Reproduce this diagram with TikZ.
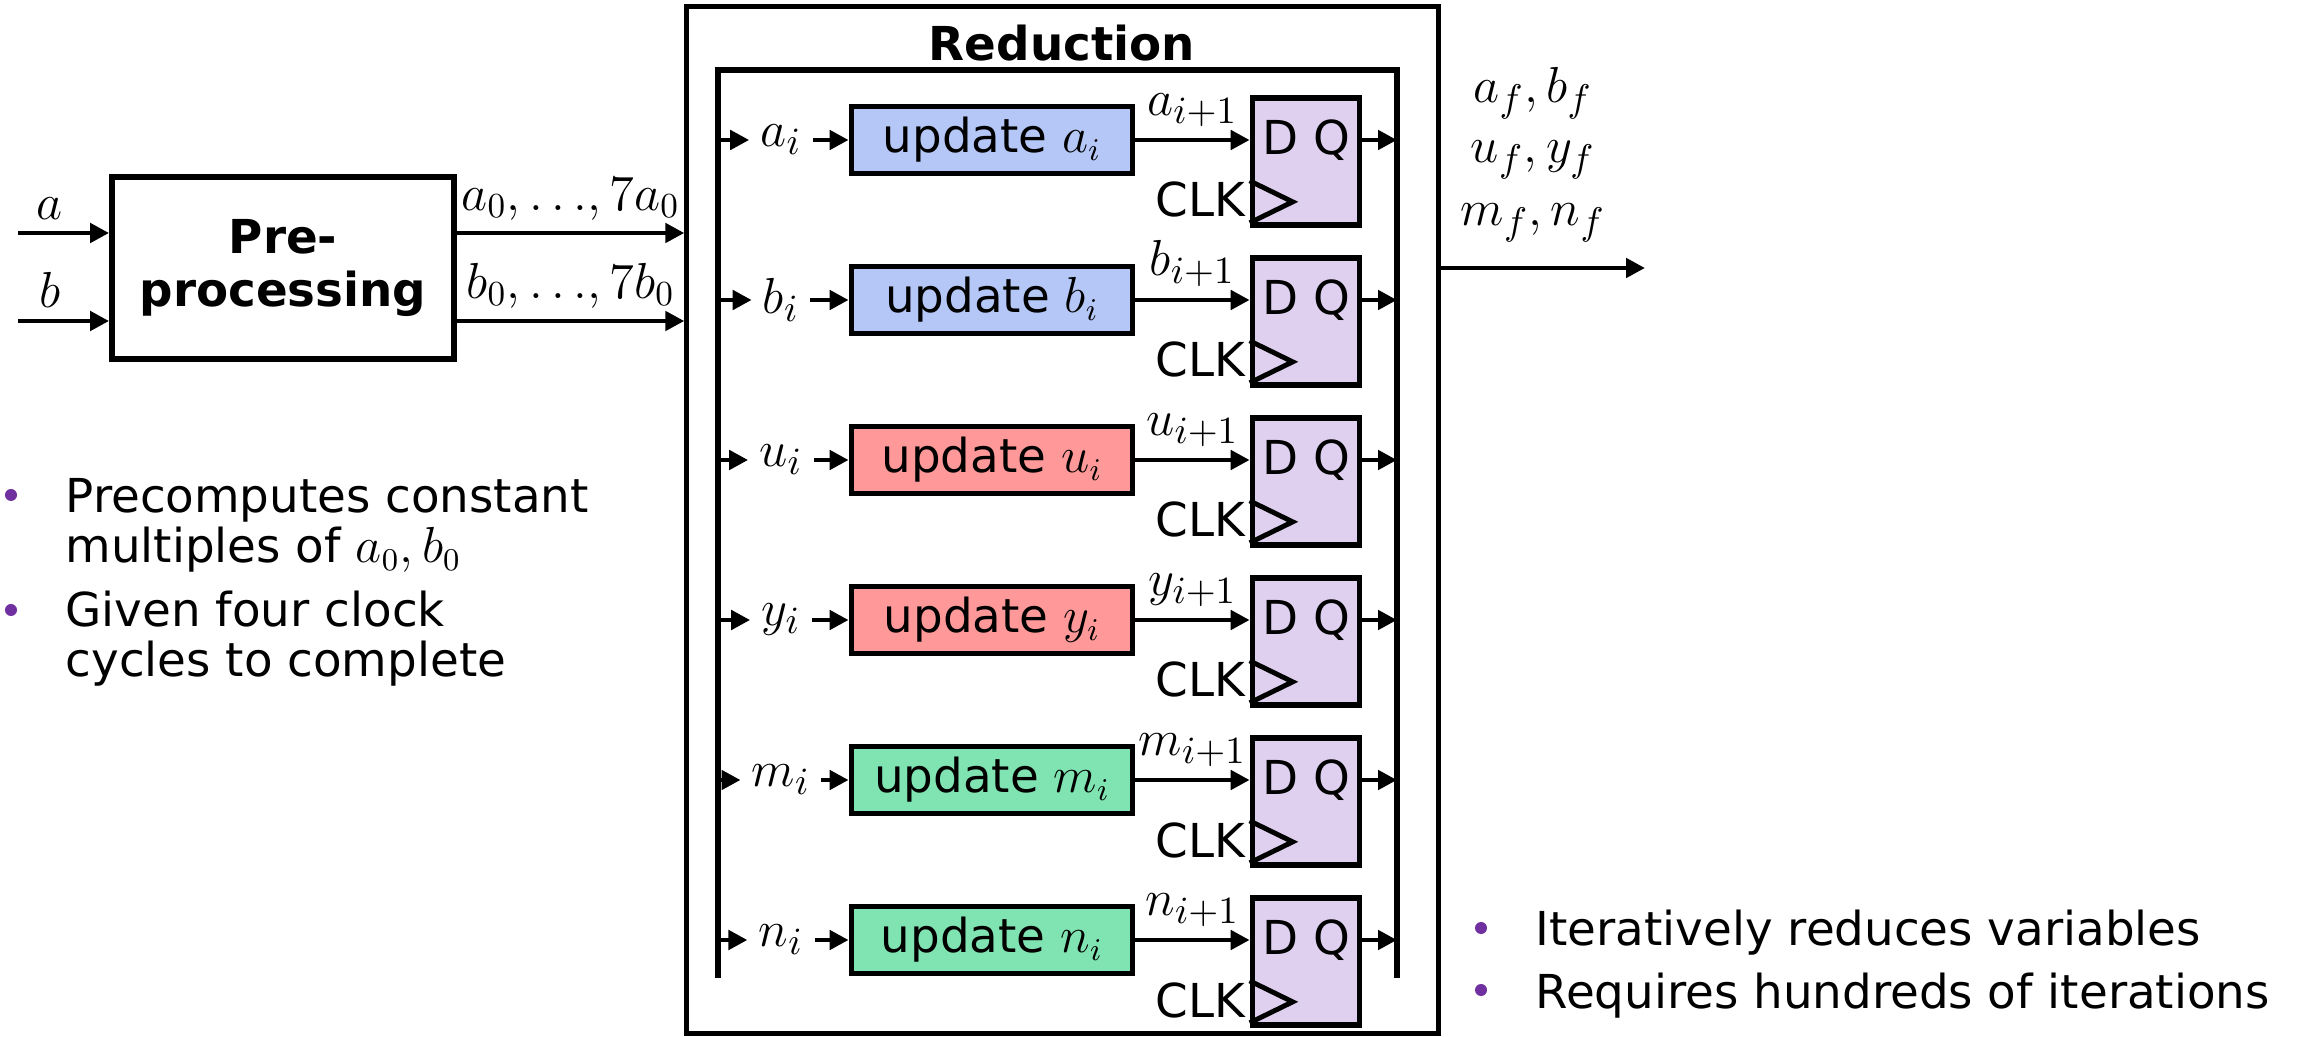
\documentclass[tikz,border=0pt]{standalone}
\usepackage{fontspec}
\setmainfont{DejaVu Sans}
\usetikzlibrary{arrows.meta,positioning,calc}
\definecolor{updblue}{RGB}{180,199,247}
\definecolor{updred}{RGB}{255,153,153}
\definecolor{updgreen}{RGB}{128,228,178}
\definecolor{dfflilac}{RGB}{224,208,240}
\definecolor{dotpurple}{RGB}{112,48,160}
\tikzset{
  blockbox/.style={draw, line width=1.6pt, align=center, inner sep=0pt},
  updbox/.style={blockbox, minimum width=2.81cm, minimum height=0.67cm},
  dffbox/.style={draw, line width=1.6pt, fill=dfflilac, minimum width=1.07cm,
    minimum height=1.27cm, inner sep=0pt},
  sigarrow/.style={-{Triangle[length=1.9mm, width=1.9mm]}, line width=1.4pt},
  busline/.style={line width=1.6pt},
  sig/.style={font=\fontsize{15}{16}\selectfont, inner sep=3pt},
  note/.style={anchor=base west, inner sep=0pt},
  notedot/.style={circle, fill=dotpurple, minimum size=0.12cm, inner sep=0pt}
}

\begin{document}
\begin{tikzpicture}[x=0.01cm, y=-0.01cm, font=\fontsize{13.3}{15}\selectfont]
    \useasboundingbox (0,0) rectangle (2318,1037);
    \node[blockbox, minimum width=3.42cm, minimum height=1.82cm, font=\fontsize{13.3}{15}\selectfont\bfseries]
      (pre) at (283,268) {Pre-\\processing};
    \node[draw, line width=1.4pt, minimum width=7.51cm, minimum height=10.26cm] (redbox) at (1062.5,520) {};
    \node[font=\fontsize{13.3}{15}\selectfont\bfseries] (redtitle) at (1062,43) {Reduction};
    \coordinate (ina) at (18,233);
    \coordinate (inb) at (18,321);
    \coordinate (ltop) at (718,70);
    \coordinate (lbot) at (718,978);
    \coordinate (rtop) at (1397,70);
    \coordinate (rbot) at (1397,978);
    \coordinate (outtip) at (1645,268);
    \draw[sigarrow] (ina) -- (ina -| pre.west) node[sig, above, pos=0.35] {$a$};
    \draw[sigarrow] (inb) -- (inb -| pre.west) node[sig, above, pos=0.35] {$b$};
    \draw[sigarrow] (ina -| pre.east) -- (ina -| redbox.west)
      node[sig, above, midway, font=\fontsize{14}{15}\selectfont] {$a_0,{\ldots},7a_0$};
    \draw[sigarrow] (inb -| pre.east) -- (inb -| redbox.west)
      node[sig, above, midway, font=\fontsize{14}{15}\selectfont] {$b_0,{\ldots},7b_0$};
    \draw[busline] (lbot) -- (ltop) -- (rtop) -- (rbot);
    \foreach \nm/\col [count=\k from 0] in {a/updblue, b/updblue, u/updred, y/updred, m/updgreen, n/updgreen}{
      \pgfmathsetmacro{\yc}{140+160*\k}
      \node[updbox, fill=\col] (upd\nm) at (992,\yc) {update $\nm_i$};
      \node[dffbox] (dff\nm) at (1306,\yc+21.5) {};
      \node (dq\nm) at (1306,\yc) {D Q};
      \node[anchor=base east, inner sep=0pt] (clk\nm) at (1246,\yc+77) {CLK};
      \node[sig] (in\nm) at (781,\yc) {$\nm_i$};
      \draw[line width=1.4pt] ($(dff\nm.south west)+(0,-5)$) -- ++(43,-21) -- ++(-43,-21);
      \draw[sigarrow] (ltop |- upd\nm) -- (in\nm);
      \draw[sigarrow] (in\nm) -- (upd\nm);
      \draw[sigarrow] (upd\nm) -- (upd\nm -| dff\nm.west) node[sig, above, midway] {$\nm_{i+1}$};
      \draw[sigarrow] (upd\nm -| dff\nm.east) -- (upd\nm -| rtop);
    }
    \draw[sigarrow] (outtip -| redbox.east) -- (outtip);
    \node[sig] (outab) at (1533,93) {$a_f, b_f$};
    \node[sig] (outuy) at (1533,160) {$u_f, y_f$};
    \node[sig] (outmn) at (1533,223) {$m_f, n_f$};
    \node[notedot] (dotpre1) at (11,495) {};
    \node[note] (pre1a) at (65,513) {Precomputes constant};
    \node[note] (pre1b) at (65,563) {multiples of $a_0, b_0$};
    \node[notedot] (dotpre2) at (11,610) {};
    \node[note] (pre2a) at (65,627) {Given four clock};
    \node[note] (pre2b) at (65,677) {cycles to complete};
    \node[notedot] (dotred1) at (1481,928) {};
    \node[note] (red1) at (1535,945) {Iteratively reduces variables};
    \node[notedot] (dotred2) at (1481,990) {};
    \node[note] (red2) at (1535,1008) {Requires hundreds of iterations};
  \end{tikzpicture}
\end{document}
